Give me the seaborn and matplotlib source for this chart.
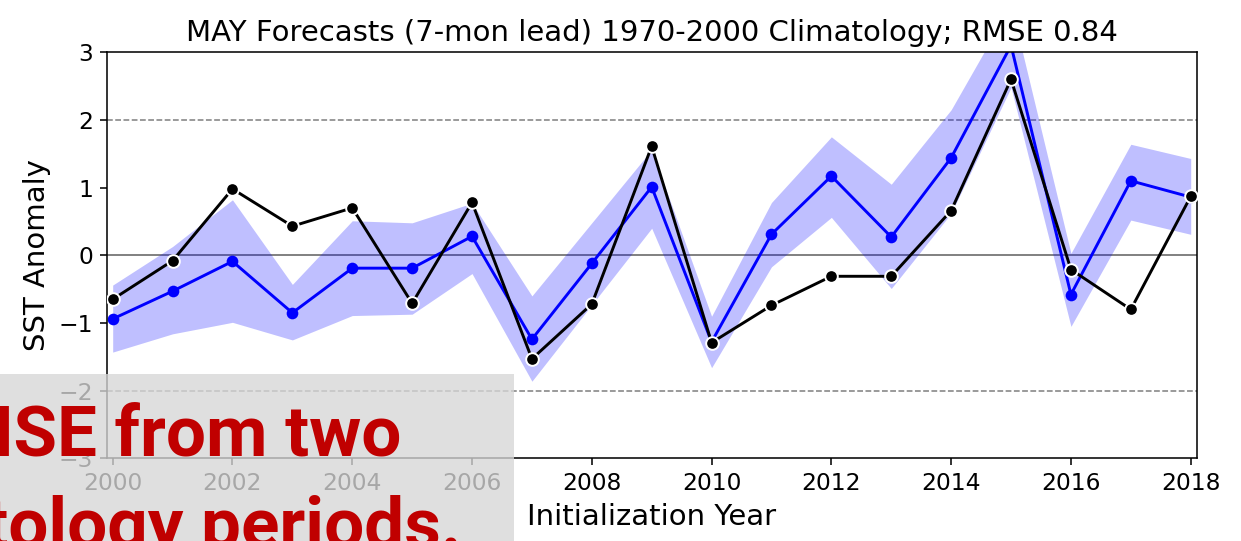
import numpy as np
import pandas as pd
import matplotlib
matplotlib.use("Agg")
import matplotlib.pyplot as plt
from matplotlib.patches import Rectangle
import seaborn as sns

# Initialization years and SST anomalies
years = list(range(2000, 2019))
observed = [-0.65, -0.08, 0.98, 0.43, 0.70, -0.71, 0.78, -1.53, -0.72, 1.61,
            -1.29, -0.74, -0.31, -0.31, 0.66, 2.60, -0.21, -0.80, 0.87]
forecast_mean = [-0.94, -0.53, -0.09, -0.85, -0.19, -0.19, 0.28, -1.24, -0.12, 1.01,
                 -1.28, 0.31, 1.17, 0.27, 1.44, 3.10, -0.58, 1.10, 0.86]
spread_upper = [-0.44, 0.13, 0.82, -0.43, 0.51, 0.48, 0.77, -0.60, 0.48, 1.56,
                -0.90, 0.78, 1.75, 1.05, 2.15, 3.70, 0.03, 1.64, 1.43]
spread_lower = [-1.43, -1.16, -0.99, -1.25, -0.89, -0.87, -0.27, -1.86, -0.73, 0.40,
                -1.66, -0.17, 0.56, -0.49, 0.62, 2.48, -1.05, 0.52, 0.31]

title = "MAY Forecasts (7-mon lead) 1970-2000 Climatology; RMSE 0.84"
caption_lines = ["RMSE from two", "climatology periods."]

df = pd.DataFrame({"year": years, "obs": observed, "fc": forecast_mean,
                   "hi": spread_upper, "lo": spread_lower})

W, H, DPI = 1241, 541, 140
fig = plt.figure(figsize=(W / DPI, H / DPI), dpi=DPI)
ax = fig.add_axes([106.7 / W, 1 - 458.4 / H, (1196.7 - 106.7) / W, (458.4 - 52.2) / H])

ax.fill_between(df["year"], df["lo"], df["hi"], color="blue", alpha=0.25,
                linewidth=0, zorder=1)
ax.axhline(0, color="gray", linewidth=1, zorder=0.5)
ax.axhline(2, color="gray", linewidth=0.8, linestyle="--", zorder=0.5)
ax.axhline(-2, color="gray", linewidth=0.8, linestyle="--", zorder=0.5)

sns.lineplot(data=df, x="year", y="fc", color="blue", marker="o",
             linewidth=1.5, markersize=6, markeredgecolor="blue",
             markeredgewidth=0, ax=ax, zorder=2)
sns.lineplot(data=df, x="year", y="obs", color="black", marker="o",
             linewidth=1.5, markersize=6.5, markeredgecolor="white",
             markeredgewidth=1.0, ax=ax, zorder=3)

ax.set_xlim(1999.9, 2018.1)
ax.set_ylim(-3, 3)
ax.set_xticks(range(2000, 2019, 2))
ax.set_yticks(range(-3, 4))
ax.tick_params(labelsize=12)
ax.set_xlabel("Initialization Year", fontsize=15)
ax.set_ylabel("SST Anomaly", fontsize=15)
ax.set_title(title, fontsize=15)

# Translucent caption panel in the lower-left corner
panel = Rectangle((0, 0), 514 / W, (H - 374) / H, transform=fig.transFigure,
                  facecolor=(215 / 255, 215 / 255, 215 / 255), alpha=0.78,
                  edgecolor="none", zorder=5)
fig.patches.append(panel)

cap_font = ["Liberation Sans Narrow", "Roboto", "DejaVu Sans"]
fig.text(401 / W, 1 - 456 / H, caption_lines[0], ha="right", va="baseline",
         fontsize=36.5, fontweight="bold", color="#c00000", family=cap_font, zorder=6)
fig.text(462 / W, 1 - 547 / H, caption_lines[1], ha="right", va="baseline",
         fontsize=36.5, fontweight="bold", color="#c00000", family=cap_font, zorder=6)

fig.savefig("out.png", dpi=DPI)
